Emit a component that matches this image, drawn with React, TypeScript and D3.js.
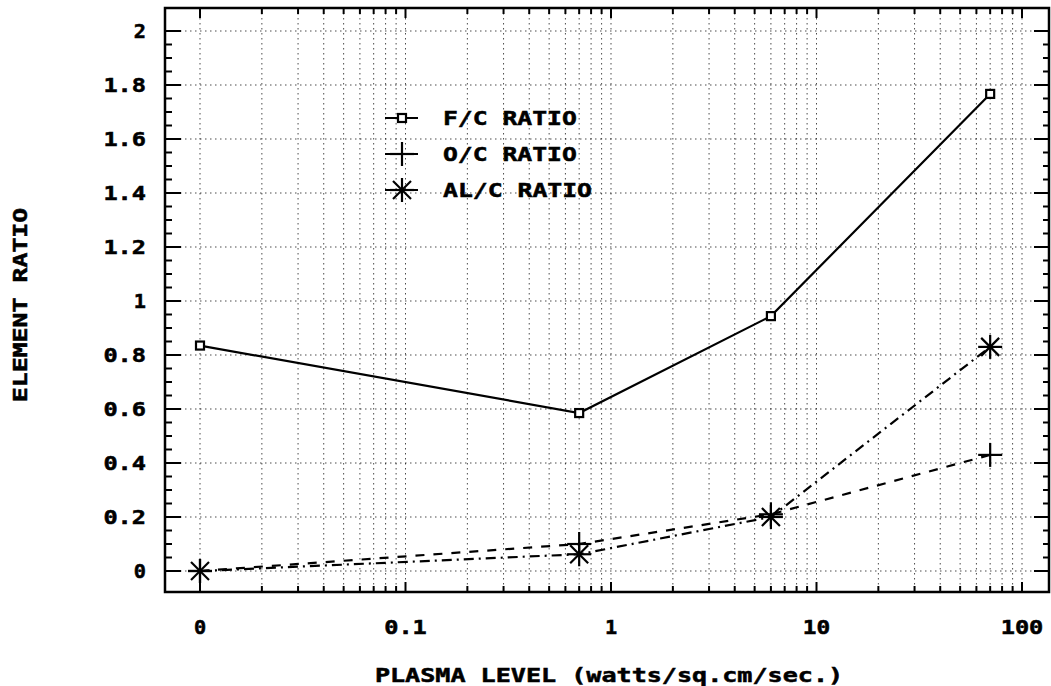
import React from "react";
import * as d3 from "d3";

// ---- data (the "0" level is plotted at 0.01 on the log axis) ----
const plasmaLevels = [0.01, 0.7, 6, 70];
const fcRatio = [0.835, 0.585, 0.944, 1.767];
const ocRatio = [0.0, 0.1, 0.21, 0.43];
const alcRatio = [0.0, 0.062, 0.2, 0.83];

const xTickValues = [0.01, 0.1, 1, 10, 100];
const xTickLabels = ["0", "0.1", "1", "10", "100"];
const yTickValues = [0, 0.2, 0.4, 0.6, 0.8, 1, 1.2, 1.4, 1.6, 1.8, 2];
const yTickLabels = ["0", "0.2", "0.4", "0.6", "0.8", "1", "1.2", "1.4", "1.6", "1.8", "2"];
const legendLabels = ["F/C RATIO", "O/C RATIO", "AL/C RATIO"];

const W = 1051;
const H = 686;
const frame = { left: 165, right: 1049, top: 8, bottom: 592 };

const x = d3.scaleLog().domain([0.01, 100]).range([200, 1022]);
const y = d3.scaleLinear().domain([0, 2]).range([571, 31]);

const PITCH = 15.2;
const FONT = "'DejaVu Sans Mono', monospace";

function Txt(props: { x: number; y: number; text: string; anchor?: string; transform?: string }) {
  const { text } = props;
  return (
    <text
      x={props.transform ? 0 : props.x}
      y={props.transform ? 0 : props.y}
      transform={props.transform}
      textAnchor={props.anchor || "start"}
      fontFamily={FONT}
      fontWeight="bold"
      fontSize={19}
      textLength={text.length * PITCH - 3}
      lengthAdjust="spacingAndGlyphs"
      fill="#000"
      stroke="#000"
      strokeWidth={0.5}
    >
      {text}
    </text>
  );
}

function Square({ cx, cy }: { cx: number; cy: number }) {
  return <rect x={cx - 4} y={cy - 4} width={8} height={8} fill="#fff" stroke="#000" strokeWidth={2.2} />;
}
function Plus({ cx, cy }: { cx: number; cy: number }) {
  const r = 12;
  return (
    <g stroke="#000" strokeWidth={2.2}>
      <line x1={cx - r} y1={cy} x2={cx + r} y2={cy} />
      <line x1={cx} y1={cy - r} x2={cx} y2={cy + r} />
    </g>
  );
}
function Star({ cx, cy }: { cx: number; cy: number }) {
  const r = 12;
  const d = r * 0.75;
  return (
    <g stroke="#000" strokeWidth={2.2}>
      <line x1={cx - r} y1={cy} x2={cx + r} y2={cy} />
      <line x1={cx} y1={cy - r} x2={cx} y2={cy + r} />
      <line x1={cx - d} y1={cy - d} x2={cx + d} y2={cy + d} />
      <line x1={cx - d} y1={cy + d} x2={cx + d} y2={cy - d} />
    </g>
  );
}

export default function App() {
  const xMinor: number[] = [];
  for (let e = -2; e < 2; e++) {
    for (let m = 2; m <= 9; m++) xMinor.push(m * Math.pow(10, e));
  }
  const yMinor: number[] = [];
  for (let i = 0; i < 40; i++) {
    if (i % 4 !== 0) yMinor.push(i * 0.05);
  }

  const line = d3
    .line<number>()
    .x((_, i) => x(plasmaLevels[i]))
    .y((d) => y(d));

  const grid = { stroke: "#000", strokeWidth: 1, strokeDasharray: "1.5,3.5", opacity: 0.7 };

  const legendY = [118, 154, 190];

  return (
    <svg width={W} height={H} style={{ position: "fixed", left: 0, top: 0, background: "#fff" }}>
      <rect width={W} height={H} fill="#fff" />
      {[...xTickValues, ...xMinor].map((v, i) => (
        <line key={"gx" + i} x1={x(v)} x2={x(v)} y1={frame.top} y2={frame.bottom} {...grid} />
      ))}
      {yTickValues.map((v, i) => (
        <line key={"gy" + i} x1={frame.left} x2={frame.right} y1={y(v)} y2={y(v)} {...grid} />
      ))}

      <g stroke="#000" strokeWidth={2}>
        {xTickValues.map((v, i) => (
          <g key={"xt" + i}>
            <line x1={x(v)} x2={x(v)} y1={frame.bottom} y2={frame.bottom - 10} />
            <line x1={x(v)} x2={x(v)} y1={frame.top} y2={frame.top + 10} />
          </g>
        ))}
        {xMinor.map((v, i) => (
          <g key={"xm" + i}>
            <line x1={x(v)} x2={x(v)} y1={frame.bottom} y2={frame.bottom - 6} />
            <line x1={x(v)} x2={x(v)} y1={frame.top} y2={frame.top + 6} />
          </g>
        ))}
        {yTickValues.map((v, i) => (
          <g key={"yt" + i}>
            <line x1={frame.left} x2={frame.left + 16} y1={y(v)} y2={y(v)} />
            <line x1={frame.right} x2={frame.right - 15} y1={y(v)} y2={y(v)} />
          </g>
        ))}
        {yMinor.map((v, i) => (
          <g key={"ym" + i}>
            <line x1={frame.left} x2={frame.left + 7} y1={y(v)} y2={y(v)} />
            <line x1={frame.right} x2={frame.right - 6} y1={y(v)} y2={y(v)} />
          </g>
        ))}
      </g>

      <path d={line(fcRatio) || ""} fill="none" stroke="#000" strokeWidth={2.2} />
      <path d={line(ocRatio) || ""} fill="none" stroke="#000" strokeWidth={2.2} strokeDasharray="9,9" />
      <path d={line(alcRatio) || ""} fill="none" stroke="#000" strokeWidth={2.2} strokeDasharray="10,5,2,5" />
      {ocRatio.map((v, i) => (
        <Plus key={"oc" + i} cx={x(plasmaLevels[i])} cy={y(v)} />
      ))}
      {alcRatio.map((v, i) => (
        <Star key={"al" + i} cx={x(plasmaLevels[i])} cy={y(v)} />
      ))}
      {fcRatio.map((v, i) => (
        <Square key={"fc" + i} cx={x(plasmaLevels[i])} cy={y(v)} />
      ))}

      <rect
        x={frame.left}
        y={frame.top}
        width={frame.right - frame.left}
        height={frame.bottom - frame.top}
        fill="none"
        stroke="#000"
        strokeWidth={2.5}
      />

      {legendLabels.map((t, i) => (
        <g key={"lg" + i}>
          <line x1={385} x2={418} y1={legendY[i]} y2={legendY[i]} stroke="#000" strokeWidth={2.2} />
          {i === 0 && <Square cx={402} cy={legendY[i]} />}
          {i === 1 && <Plus cx={402} cy={legendY[i]} />}
          {i === 2 && <Star cx={402} cy={legendY[i]} />}
          <Txt x={443} y={legendY[i] + 7} text={t} />
        </g>
      ))}

      {xTickValues.map((v, i) => (
        <Txt key={"xl" + i} x={x(v)} y={634} text={xTickLabels[i]} anchor="middle" />
      ))}
      {yTickValues.map((v, i) => (
        <Txt key={"yl" + i} x={146} y={y(v) + 7} text={yTickLabels[i]} anchor="end" />
      ))}

      <Txt x={609} y={682} text="PLASMA LEVEL (watts/sq.cm/sec.)" anchor="middle" />
      <Txt x={0} y={0} transform="translate(27,305) rotate(-90)" text="ELEMENT RATIO" anchor="middle" />
    </svg>
  );
}
